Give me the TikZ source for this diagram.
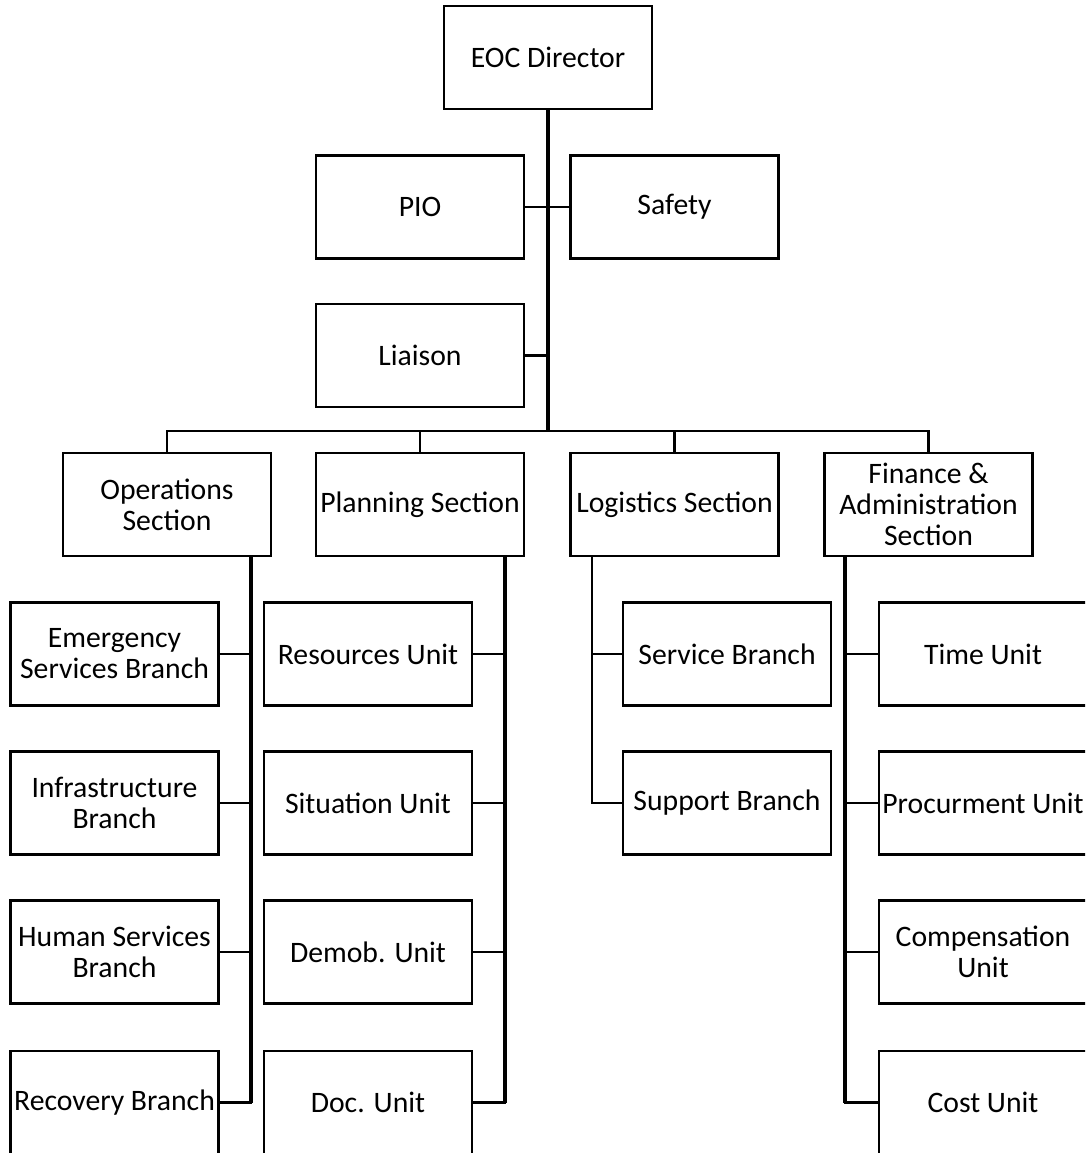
\documentclass[tikz,border=0pt]{standalone}
\usepackage{fontspec}
\setmainfont{Carlito}
\begin{document}
\begin{tikzpicture}[x=1pt,y=-1pt,
  box/.style={draw=black,line width=2.8pt,minimum width=208pt,minimum height=103pt,
    inner sep=0pt,align=center,font=\fontsize{29.7}{31}\selectfont},
  conn/.style={line width=2.8pt,line cap=rect},
  spine/.style={line width=3.6pt},
  trunk/.style={line width=4.5pt}]
\useasboundingbox (0,0) rectangle (1085,1153);
\clip (0,0) rectangle (1085,1153);
% top
\node[box] (eoc) at (548,57.5) {EOC Director};
\node[box] (pio) at (420,207) {PIO};
\node[box] (saf) at (674.5,207) {Safety};
\node[box] (lia) at (420,355.5) {Liaison};
% sections
\node[box] (ops) at (167,504.5) {Operations\\Section};
\node[box] (plan) at (420,504.5) {Planning Section};
\node[box] (log) at (674.5,504.5) {Logistics Section};
\node[box] (fin) at (928.5,504.5) {Finance \&\\Administration\\Section};
% operations children
\node[box] (ems) at (114.5,654) {Emergency\\Services Branch};
\node[box] (inf) at (114.5,803) {Infrastructure\\Branch};
\node[box] (hum) at (114.5,952) {Human Services\\Branch};
\node[box] (rec) at (114.5,1102.5) {Recovery Branch};
% planning children
\node[box] (res) at (368,654) {Resources Unit};
\node[box] (sit) at (368,803) {Situation Unit};
\node[box] (dem) at (368,952) {Demob. Unit};
\node[box] (doc) at (368,1102.5) {Doc. Unit};
% logistics children
\node[box] (ser) at (727,654) {Service Branch};
\node[box] (sup) at (727,803) {Support Branch};
% finance children
\node[box] (tim) at (983,654) {Time Unit};
\node[box] (pro) at (983,803) {Procurment Unit};
\node[box] (com) at (983,952) {Compensation\\Unit};
\node[box] (cos) at (983,1102.5) {Cost Unit};
% coordinates
\coordinate (bus) at (548,431);
\coordinate (os) at (251,557);
\coordinate (ps) at (505,557);
\coordinate (ls) at (592,557);
\coordinate (fs) at (845,557);
% connectors top
\draw[conn] (pio.east) -- (saf.west);
\draw[conn] (lia.east) -- (lia.east -| bus);
\draw[trunk] (eoc.south) -- (bus);
\draw[conn] (ops.north) |- (fin.north |- bus) -- (fin.north);
\draw[conn] (plan.north) -- (plan.north |- bus);
\draw[conn] (log.north) -- (log.north |- bus);
% operations
\draw[spine] (os) -- (os |- rec.east);
\draw[conn] (ems.east) -- (ems.east -| os);
\draw[conn] (inf.east) -- (inf.east -| os);
\draw[conn] (hum.east) -- (hum.east -| os);
\draw[conn] (rec.east) -- (rec.east -| os);
% planning
\draw[spine] (ps) -- (ps |- doc.east);
\draw[conn] (res.east) -- (res.east -| ps);
\draw[conn] (sit.east) -- (sit.east -| ps);
\draw[conn] (dem.east) -- (dem.east -| ps);
\draw[conn] (doc.east) -- (doc.east -| ps);
% logistics
\draw[conn] (ls) -- (ls |- sup.west);
\draw[conn] (ser.west) -- (ser.west -| ls);
\draw[conn] (sup.west) -- (sup.west -| ls);
% finance
\draw[spine] (fs) -- (fs |- cos.west);
\draw[conn] (tim.west) -- (tim.west -| fs);
\draw[conn] (pro.west) -- (pro.west -| fs);
\draw[conn] (com.west) -- (com.west -| fs);
\draw[conn] (cos.west) -- (cos.west -| fs);
\end{tikzpicture}
\end{document}
